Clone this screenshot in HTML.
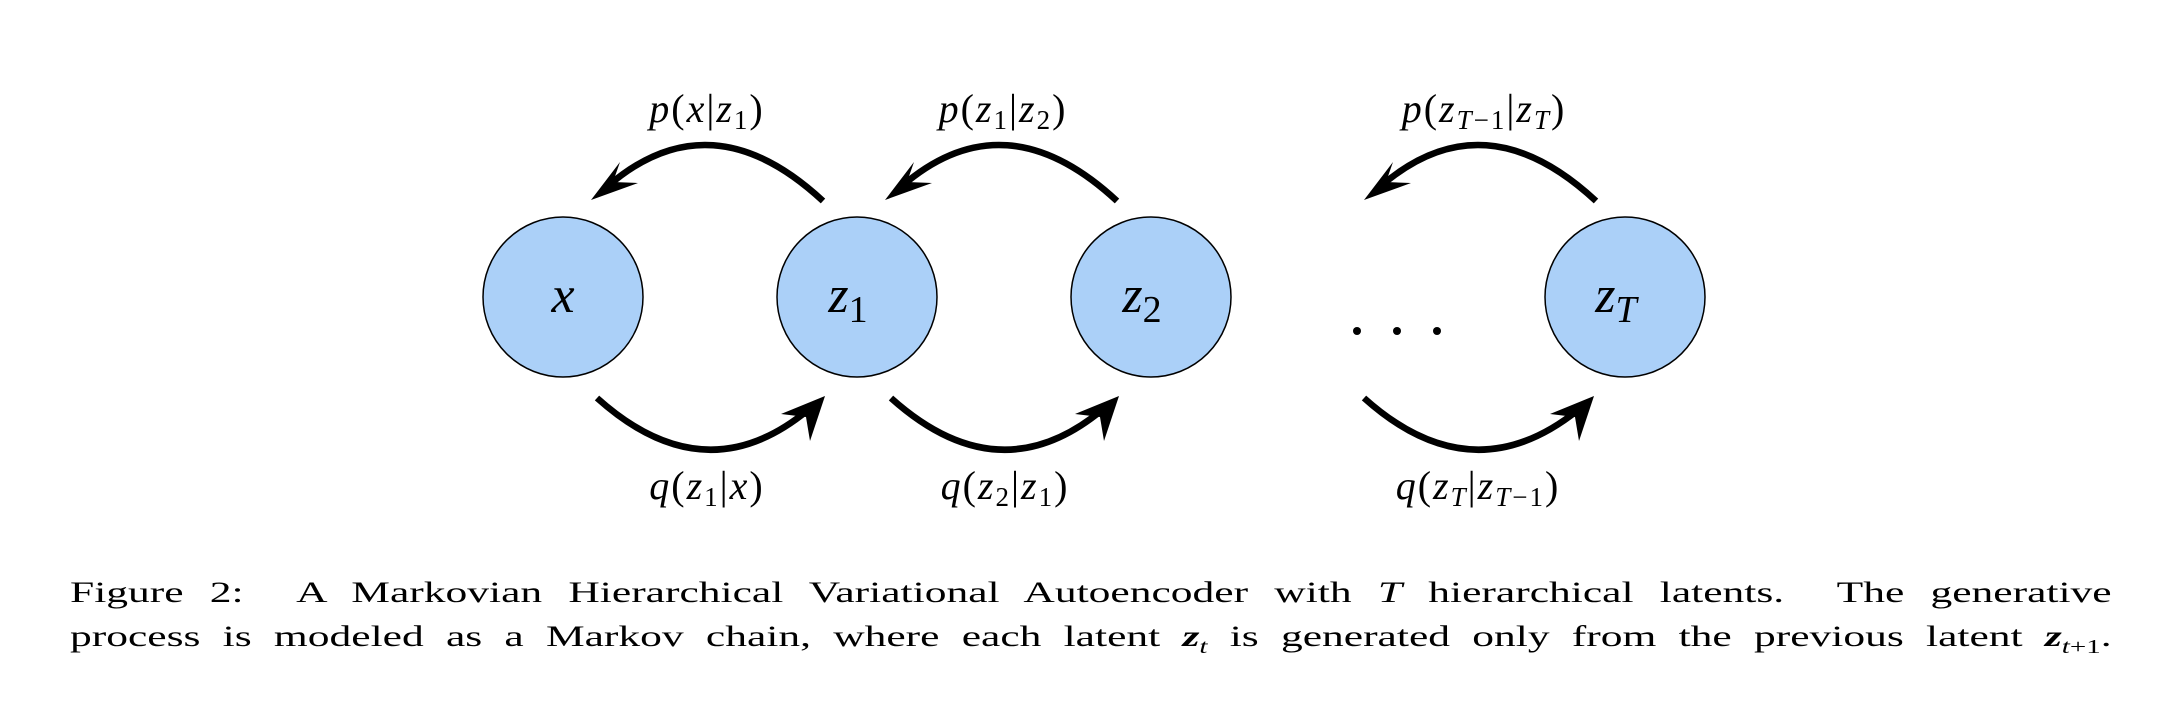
<!DOCTYPE html>
<html><head><meta charset="utf-8"><style>
html,body{margin:0;padding:0;background:#fff;}
body{width:2164px;height:710px;position:relative;overflow:hidden;font-family:"Liberation Serif",serif;}
.cap{position:absolute;left:70px;width:1408px;font-size:30px;text-align:justify;text-align-last:justify;white-space:nowrap;color:#000;transform:scaleX(1.45);transform-origin:0 0;}
</style></head><body>
<svg width="2164" height="710" style="position:absolute;left:0;top:0" xmlns="http://www.w3.org/2000/svg">
<g fill="#abd0f8" stroke="#000" stroke-width="1.5">
<circle cx="563" cy="297" r="80"/>
<circle cx="857" cy="297" r="80"/>
<circle cx="1151" cy="297" r="80"/>
<circle cx="1625" cy="297" r="80"/>
</g>
<g font-family="Liberation Serif, serif" font-style="italic" font-size="52" text-anchor="middle">
<text x="563" y="312">x</text>
<text x="848" y="312">z<tspan font-style="normal" font-size="38" dy="10">1</tspan></text>
<text x="1142" y="312">z<tspan font-style="normal" font-size="38" dy="10">2</tspan></text>
<text x="1616" y="312">z<tspan font-size="38" dy="10">T</tspan></text>
</g>
<g fill="#000"><circle cx="1357" cy="331" r="4"/><circle cx="1397" cy="331" r="4"/><circle cx="1437" cy="331" r="4"/></g>
<g fill="none" stroke="#000" stroke-width="6.5">
<path d="M823 201 Q711 97 608 186"/>
<path d="M1117 201 Q1005 97 902 186"/>
<path d="M1596 201 Q1484 97 1381 186"/>
<path d="M597 398 Q705 495 808 410"/>
<path d="M891 398 Q999 495 1102 410"/>
<path d="M1364 398 Q1472 495 1578 410"/>
</g>
<g fill="#000">
<polygon points="591,200 620,162 613,182 638,183"/>
<polygon points="885,200 914,162 907,182 932,183"/>
<polygon points="1364,200 1393,162 1386,182 1411,183"/>
<polygon points="825,396 810,441 806,417 781,414"/>
<polygon points="1119,396 1104,441 1100,417 1075,414"/>
<polygon points="1594,396 1579,441 1575,417 1550,414"/>
</g>
<g font-family="Liberation Serif, serif" font-size="40" text-anchor="middle" letter-spacing="2">
<text x="707" y="122"><tspan font-style="italic">p</tspan>(<tspan font-style="italic">x</tspan>|<tspan font-style="italic">z</tspan><tspan font-size="27" dy="7">1</tspan><tspan dy="-7">)</tspan></text>
<text x="1003" y="122"><tspan font-style="italic">p</tspan>(<tspan font-style="italic">z</tspan><tspan font-size="27" dy="7">1</tspan><tspan dy="-7">|</tspan><tspan font-style="italic">z</tspan><tspan font-size="27" dy="7">2</tspan><tspan dy="-7">)</tspan></text>
<text x="1484" y="122"><tspan font-style="italic">p</tspan>(<tspan font-style="italic">z</tspan><tspan font-size="27" dy="7" font-style="italic">T</tspan><tspan font-size="27">−1</tspan><tspan dy="-7">|</tspan><tspan font-style="italic">z</tspan><tspan font-size="27" dy="7" font-style="italic">T</tspan><tspan dy="-7">)</tspan></text>
<text x="707" y="499"><tspan font-style="italic">q</tspan>(<tspan font-style="italic">z</tspan><tspan font-size="27" dy="7">1</tspan><tspan dy="-7">|</tspan><tspan font-style="italic">x</tspan>)</text>
<text x="1005" y="499"><tspan font-style="italic">q</tspan>(<tspan font-style="italic">z</tspan><tspan font-size="27" dy="7">2</tspan><tspan dy="-7">|</tspan><tspan font-style="italic">z</tspan><tspan font-size="27" dy="7">1</tspan><tspan dy="-7">)</tspan></text>
<text x="1478" y="499"><tspan font-style="italic">q</tspan>(<tspan font-style="italic">z</tspan><tspan font-size="27" dy="7" font-style="italic">T</tspan><tspan dy="-7">|</tspan><tspan font-style="italic">z</tspan><tspan font-size="27" dy="7" font-style="italic">T</tspan><tspan font-size="27">−1</tspan><tspan dy="-7">)</tspan></text>
</g>
</svg>
<div class="cap" style="top:576px">Figure 2: &nbsp;A Markovian Hierarchical Variational Autoencoder with <i>T</i> hierarchical latents. &nbsp;The generative</div>
<div class="cap" style="top:620px">process is modeled as a Markov chain, where each latent <b><i>z</i></b><sub style="font-size:20px"><i>t</i></sub> is generated only from the previous latent <b><i>z</i></b><sub style="font-size:20px"><i>t</i>+1</sub>.</div>
</body></html>
